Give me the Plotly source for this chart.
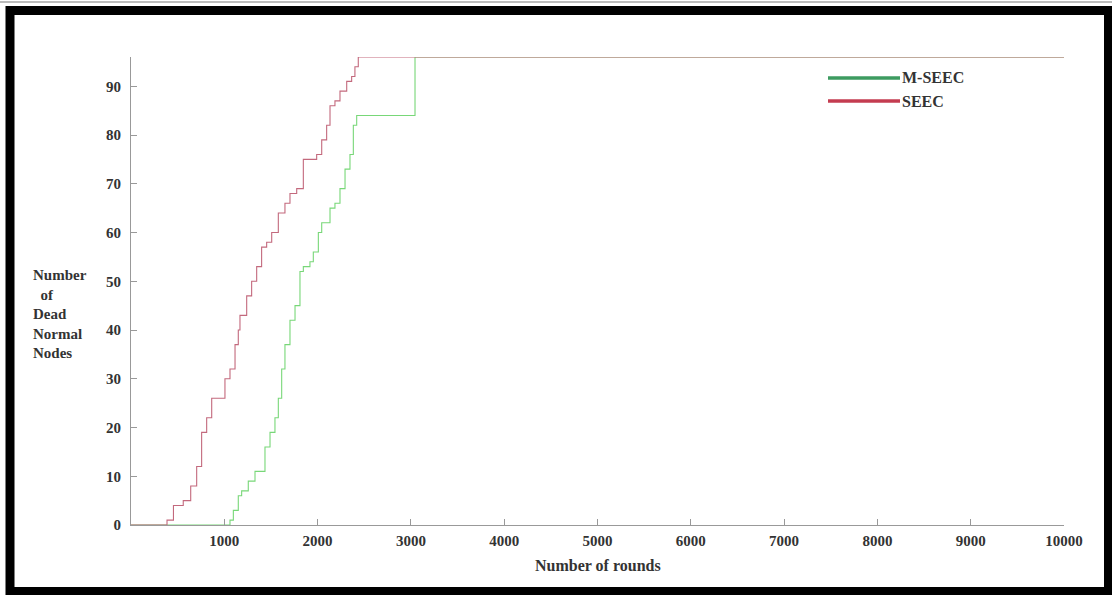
import plotly.graph_objects as go

# ---------------- data ----------------
seec_rounds = [0, 386, 455, 543, 560, 640, 704, 757, 811, 865, 990, 1007, 1061, 1115, 1150,
               1168, 1240, 1293, 1347, 1400, 1454, 1508, 1579, 1650, 1704, 1776, 1847, 1918,
               1990, 2044, 2097, 2133, 2186, 2240, 2312, 2365, 2400, 2436, 10000]
seec_dead = [0, 1, 4, 4, 5, 8, 12, 19, 22, 26, 26, 30, 32, 37, 40,
             43, 47, 50, 53, 57, 58, 60, 64, 66, 68, 69, 75, 75,
             76, 79, 82, 86, 87, 89, 91, 92, 94, 96, 96]

mseec_rounds = [0, 1061, 1097, 1150, 1186, 1257, 1329, 1400, 1436, 1490, 1543, 1579, 1615,
                1650, 1704, 1758, 1811, 1847, 1918, 1954, 2008, 2044, 2133, 2186, 2240, 2294,
                2347, 2383, 2419, 3044, 10000]
mseec_dead = [0, 1, 3, 6, 7, 9, 11, 11, 16, 19, 22, 26, 32,
              37, 42, 45, 52, 53, 54, 56, 60, 62, 65, 66, 69, 73,
              76, 82, 84, 96, 96]

x_ticks = [1000, 2000, 3000, 4000, 5000, 6000, 7000, 8000, 9000, 10000]
y_ticks = [0, 10, 20, 30, 40, 50, 60, 70, 80, 90]
series_names = ["M-SEEC", "SEEC"]

# ---------------- layout geometry ----------------
W, H = 1112, 595
L, R, T, B = 131, 48, 57, 70
PW, PH = W - L - R, H - T - B


def px(x):
    return (x - L) / PW


def py(y):
    return (H - B - y) / PH


FONT = "Liberation Serif"
TXT = "#333"

fig = go.Figure()
fig.add_trace(go.Scatter(x=mseec_rounds, y=mseec_dead, mode="lines", line_shape="hv",
                         line=dict(color="rgb(120,215,120)", width=1.1), showlegend=False,
                         name=series_names[0]))
fig.add_trace(go.Scatter(x=seec_rounds, y=seec_dead, mode="lines", line_shape="hv",
                         line=dict(color="rgb(195,105,125)", width=1.1), showlegend=False,
                         name=series_names[1]))

shapes = []
annotations = []
# legend drawn manually (long line samples)
legend_cols = ["#3d9b60", "#c43c50"]
legend_y = [78, 101]
for name, col, yy in zip(series_names, legend_cols, legend_y):
    shapes.append(dict(type="line", xref="paper", yref="paper", x0=px(828), x1=px(900),
                       y0=py(yy), y1=py(yy), line=dict(color=col, width=3.5)))
    annotations.append(dict(xref="paper", yref="paper", x=px(900), y=py(yy), xanchor="left",
                            yanchor="middle", showarrow=False,
                            text=f"<b>{name}</b>", font=dict(family=FONT, size=16, color=TXT)))

# y-axis title
annotations.append(dict(xref="paper", yref="paper", x=px(31), y=py(314), xanchor="left",
                        yanchor="middle", align="left", showarrow=False,
                        text="<b>Number<br>&nbsp;&nbsp;of<br>Dead<br>Normal<br>Nodes</b>",
                        font=dict(family=FONT, size=15, color=TXT)))
# x-axis title
annotations.append(dict(xref="paper", yref="paper", x=px(598), y=py(565), xanchor="center",
                        yanchor="middle", showarrow=False, text="<b>Number of rounds</b>",
                        font=dict(family=FONT, size=16, color=TXT)))

# outer frame
shapes.append(dict(type="line", xref="paper", yref="paper", x0=px(0), x1=px(W),
                   y0=py(2), y1=py(2), line=dict(color="#bbbbbb", width=2)))
shapes.append(dict(type="rect", xref="paper", yref="paper", x0=px(10), x1=px(1108.5),
                   y0=py(591.5), y1=py(10.5), line=dict(color="black", width=9)))

fig.update_layout(
    width=W, height=H,
    margin=dict(l=L, r=R, t=T, b=B, pad=0),
    paper_bgcolor="white", plot_bgcolor="white",
    shapes=shapes, annotations=annotations,
    showlegend=False,
    font=dict(family=FONT, size=15, color=TXT),
)
fig.update_xaxes(range=[0, 10000], tickvals=x_ticks, ticktext=[str(v) for v in x_ticks],
                 showgrid=False, zeroline=False, showline=True, linecolor="#999", linewidth=1,
                 ticks="inside", ticklen=6, tickcolor="#999", ticklabelstandoff=2,
                 tickfont=dict(family=FONT, size=15, color=TXT, weight="bold"))
fig.update_yaxes(range=[0, 96], tickvals=y_ticks, ticktext=[str(v) for v in y_ticks],
                 showgrid=False, zeroline=False, showline=True, linecolor="#999", linewidth=1,
                 ticks="inside", ticklen=6, tickcolor="#999", ticklabelstandoff=6,
                 tickfont=dict(family=FONT, size=15, color=TXT, weight="bold"))

fig.write_html("out.html")
